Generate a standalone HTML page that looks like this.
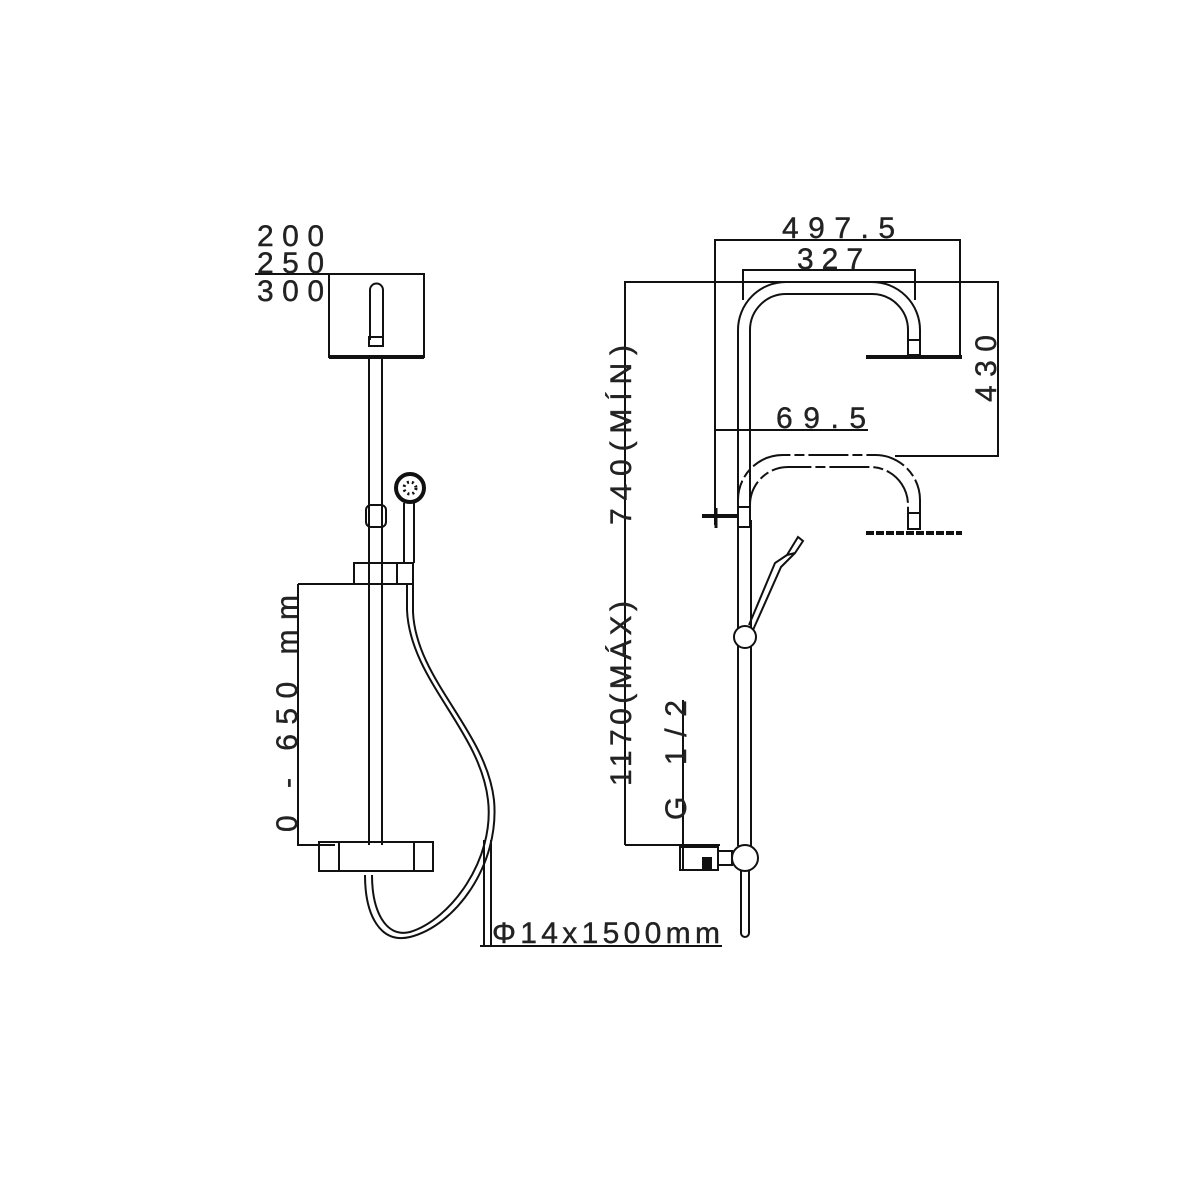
<!DOCTYPE html>
<html><head><meta charset="utf-8"><style>
html,body{margin:0;padding:0;background:#fff;}
svg{display:block;}
text{font-family:"Liberation Sans",sans-serif;font-size:30px;fill:#222;stroke:#222;stroke-width:0.4px;}
</style></head><body>
<svg width="1200" height="1200" viewBox="0 0 1200 1200" xmlns="http://www.w3.org/2000/svg">
<g stroke="#111" stroke-width="2" fill="none">
<!-- LEFT FIGURE -->
<line x1="255" y1="274" x2="425" y2="274"/>
<rect x="329" y="274" width="95" height="83"/>
<line x1="329" y1="357" x2="424" y2="357" stroke-width="4"/>
<path d="M370 340 V290 A6.5 6.5 0 0 1 383 290 V340"/>
<rect x="369" y="337" width="14" height="9"/>
<line x1="369" y1="357" x2="369" y2="845"/>
<line x1="382" y1="357" x2="382" y2="845"/>
<rect x="366" y="505" width="20" height="22" rx="5"/>
<circle cx="410" cy="488" r="14" stroke-width="4"/>
<circle cx="410" cy="488" r="6" stroke-width="3" stroke-dasharray="2 3"/>
<line x1="404" y1="503" x2="404" y2="563"/>
<line x1="414" y1="503" x2="414" y2="563"/>
<rect x="354" y="563" width="59" height="21"/>
<line x1="397" y1="563" x2="397" y2="584"/>
<path d="M298 584 H413 M298 584 V845 H335"/>
<rect x="319" y="842" width="114" height="29"/>
<line x1="339" y1="842" x2="339" y2="871"/>
<line x1="414" y1="842" x2="414" y2="871"/>
<!-- hose -->
<path d="M407 584 V610 C410 680 480 730 488 800 C495 860 450 920 410 932 C385 938 372 910 372 875"/>
<path d="M413 584 V612 C416 680 486 730 494 800 C500 865 455 926 410 937 C380 944 365 915 365 875"/>
<line x1="484" y1="840" x2="484" y2="946"/>
<line x1="491" y1="840" x2="491" y2="946"/>
<line x1="480" y1="946" x2="722" y2="946"/>

<!-- RIGHT FIGURE dims -->
<path d="M715 525 V240 H960 V357"/>
<path d="M743 300 V270 H915 V300"/>
<path d="M625 845 V282 H998 V456 H895"/>
<line x1="625" y1="845" x2="720" y2="845"/>
<line x1="715" y1="430" x2="868" y2="430"/>
<line x1="683" y1="700" x2="683" y2="870"/>
<!-- upper arm -->
<path d="M738 520 V330 A48 48 0 0 1 786 282 H872 A48 48 0 0 1 920 330 V340"/>
<path d="M750 520 V330 A36 36 0 0 1 786 294 H872 A36 36 0 0 1 908 330 V340"/>
<rect x="908" y="340" width="12" height="15"/>
<line x1="866" y1="357" x2="962" y2="357" stroke-width="4"/>
<!-- lower arm -->
<path d="M738 520 V500 A45 45 0 0 1 783 455 H875 A45 45 0 0 1 920 500 V515" stroke-dasharray="40 4 10 4"/>
<path d="M750 520 V505 A38 38 0 0 1 788 467 H870 A38 38 0 0 1 908 505 V515" stroke-dasharray="40 4 10 4"/>
<rect x="908" y="513" width="12" height="16"/>
<line x1="866" y1="533" x2="962" y2="533" stroke-width="4" stroke-dasharray="8 2"/>
<!-- clamp -->
<line x1="702" y1="516" x2="738" y2="516" stroke-width="4"/>
<line x1="716" y1="508" x2="716" y2="528" stroke-width="3"/>
<rect x="738" y="507" width="12" height="20"/>
<!-- main pipe -->
<line x1="738" y1="520" x2="738" y2="846"/>
<line x1="751" y1="520" x2="751" y2="846"/>
<circle cx="745" cy="637" r="11" fill="#fff"/>
<path d="M749 625 L775 563 L787 555 M753 630 L781 567 L795 553"/>
<path d="M787 555 L798 537 L803 541 L795 553 Z" fill="#fff"/>
<circle cx="745" cy="858" r="13" fill="#fff"/>
<path d="M741 871 V933 A4 4 0 0 0 749 933 V871"/>
<rect x="680" y="847" width="38" height="23"/>
<rect x="703" y="858" width="8" height="10" fill="#111"/>
<rect x="718" y="851" width="14" height="14"/>
</g>
<text x="257" y="246" textLength="67" lengthAdjust="spacing">200</text>
<text x="257" y="273" textLength="67" lengthAdjust="spacing">250</text>
<text x="257" y="301" textLength="67" lengthAdjust="spacing">300</text>
<text transform="translate(297,832) rotate(-90)" textLength="237" lengthAdjust="spacing">0 - 650 mm</text>
<text x="492" y="943" textLength="228" lengthAdjust="spacing">Φ14x1500mm</text>
<text x="782" y="238" textLength="113" lengthAdjust="spacing">497.5</text>
<text x="797" y="269" textLength="66" lengthAdjust="spacing">327</text>
<text x="776" y="428" textLength="90" lengthAdjust="spacing">69.5</text>
<text transform="translate(996,402) rotate(-90)" textLength="67" lengthAdjust="spacing">430</text>
<text transform="translate(631,786) rotate(-90)" textLength="185" lengthAdjust="spacing">1170(MÁX)</text>
<text transform="translate(631,525) rotate(-90)" textLength="180" lengthAdjust="spacing">740(MÍN)</text>
<text transform="translate(686,820) rotate(-90)" textLength="120" lengthAdjust="spacing">G 1/2</text>
</svg>
</body></html>
